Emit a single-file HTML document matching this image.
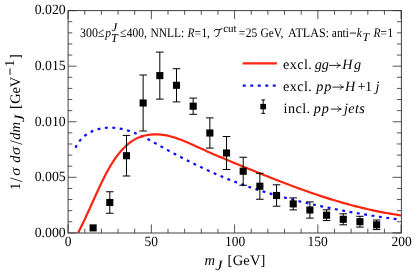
<!DOCTYPE html>
<html><head><meta charset="utf-8"><title>plot</title>
<style>html,body{margin:0;padding:0;background:#fff;}svg{display:block;will-change:transform;}text{font-family:"Liberation Serif",serif;fill:#000;text-rendering:geometricPrecision;}</style>
</head><body>
<svg width="415" height="274" viewBox="0 0 415 274">
<rect width="415" height="274" fill="#fff"/>
<defs><clipPath id="c"><rect x="68.1" y="10.6" width="333.0" height="222.3"/></clipPath></defs>
<g clip-path="url(#c)" fill="none">
<path d="M75.50,148.30 L76.13,146.30 L77.35,144.17 L78.67,142.18 L80.09,140.34 L81.61,138.64 L83.21,137.08 L84.89,135.64 L86.64,134.34 L88.46,133.16 L90.33,132.11 L92.26,131.18 L94.24,130.36 L96.25,129.66 L98.29,129.06 L100.36,128.58 L102.44,128.20 L104.55,127.92 L106.67,127.74 L108.80,127.65 L110.95,127.65 L113.09,127.74 L115.25,127.92 L117.40,128.18 L119.56,128.52 L121.71,128.93 L123.85,129.41 L125.98,129.97 L128.10,130.58 L130.21,131.27 L132.29,132.01 L134.37,132.80 L136.43,133.64 L138.48,134.53 L140.51,135.46 L142.54,136.43 L144.55,137.43 L146.55,138.45 L148.54,139.50 L150.52,140.57 L152.50,141.66 L154.47,142.75 L156.43,143.85 L158.38,144.95 L160.33,146.05 L162.27,147.15 L164.21,148.23 L166.15,149.30 L168.08,150.37 L170.01,151.42 L171.94,152.47 L173.87,153.50 L175.80,154.53 L177.73,155.55 L179.66,156.56 L181.59,157.57 L183.53,158.57 L185.47,159.56 L187.41,160.55 L189.36,161.53 L191.32,162.51 L193.28,163.48 L195.24,164.44 L197.21,165.40 L199.19,166.35 L201.17,167.29 L203.16,168.23 L205.15,169.16 L207.15,170.09 L209.15,171.00 L211.16,171.91 L213.17,172.81 L215.19,173.70 L217.21,174.58 L219.24,175.45 L221.27,176.32 L223.30,177.17 L225.34,178.02 L227.39,178.85 L229.44,179.67 L231.49,180.49 L233.55,181.29 L235.61,182.08 L237.67,182.86 L239.74,183.63 L241.82,184.38 L243.89,185.13 L245.97,185.86 L248.06,186.58 L250.15,187.30 L252.24,188.00 L254.33,188.69 L256.43,189.37 L258.53,190.04 L260.64,190.70 L262.75,191.36 L264.86,192.00 L266.97,192.63 L269.09,193.26 L271.21,193.88 L273.33,194.48 L275.46,195.08 L277.59,195.68 L279.72,196.26 L281.85,196.84 L283.99,197.41 L286.12,197.97 L288.26,198.52 L290.41,199.07 L292.55,199.61 L294.70,200.15 L296.85,200.68 L299.00,201.20 L301.15,201.72 L303.31,202.23 L305.46,202.73 L307.62,203.23 L309.78,203.73 L311.94,204.22 L314.10,204.70 L316.27,205.18 L318.43,205.65 L320.60,206.12 L322.77,206.58 L324.94,207.04 L327.11,207.49 L329.28,207.94 L331.45,208.38 L333.62,208.81 L335.79,209.24 L337.97,209.67 L340.14,210.09 L342.32,210.50 L344.49,210.91 L346.67,211.31 L348.84,211.71 L351.02,212.10 L353.20,212.49 L355.37,212.87 L357.55,213.25 L359.72,213.62 L361.90,213.99 L364.08,214.35 L366.25,214.70 L368.43,215.05 L370.60,215.40 L372.78,215.74 L374.95,216.07 L377.12,216.40 L379.30,216.73 L381.47,217.05 L383.64,217.36 L385.81,217.67 L387.98,217.98 L390.15,218.28 L392.31,218.57 L394.48,218.86 L396.64,219.14 L398.81,219.42 L401.10,219.70" stroke="#0a0aff" stroke-width="2.2" stroke-dasharray="2.9 4.55" stroke-dashoffset="-0.47"/>
<path d="M78.30,232.90 L79.22,230.50 L80.31,228.39 L81.39,226.25 L82.46,224.09 L83.52,221.92 L84.56,219.73 L85.60,217.52 L86.64,215.30 L87.66,213.07 L88.68,210.83 L89.70,208.58 L90.72,206.32 L91.74,204.06 L92.75,201.79 L93.77,199.52 L94.80,197.25 L95.82,194.98 L96.86,192.70 L97.89,190.43 L98.94,188.17 L100.00,185.91 L101.07,183.65 L102.15,181.41 L103.24,179.17 L104.36,176.95 L105.49,174.74 L106.66,172.54 L107.85,170.36 L109.07,168.19 L110.33,166.04 L111.63,163.92 L112.97,161.81 L114.36,159.73 L115.80,157.67 L117.30,155.64 L118.85,153.64 L120.45,151.70 L122.10,149.81 L123.82,148.00 L125.58,146.26 L127.41,144.61 L129.29,143.07 L131.23,141.63 L133.22,140.32 L135.27,139.14 L137.38,138.09 L139.54,137.18 L141.75,136.39 L144.00,135.74 L146.28,135.21 L148.59,134.81 L150.93,134.53 L153.28,134.36 L155.65,134.31 L158.03,134.37 L160.42,134.54 L162.80,134.81 L165.17,135.19 L167.55,135.66 L169.91,136.22 L172.28,136.86 L174.63,137.57 L176.99,138.36 L179.34,139.20 L181.68,140.09 L184.02,141.03 L186.36,142.00 L188.70,143.01 L191.03,144.04 L193.35,145.09 L195.68,146.15 L198.00,147.21 L200.31,148.27 L202.63,149.32 L204.94,150.35 L207.25,151.38 L209.55,152.40 L211.86,153.42 L214.16,154.42 L216.46,155.41 L218.75,156.40 L221.05,157.38 L223.34,158.36 L225.63,159.33 L227.92,160.29 L230.21,161.25 L232.49,162.20 L234.78,163.15 L237.06,164.09 L239.35,165.03 L241.63,165.96 L243.91,166.90 L246.19,167.83 L248.47,168.75 L250.75,169.68 L253.03,170.60 L255.31,171.52 L257.59,172.44 L259.87,173.36 L262.14,174.27 L264.42,175.18 L266.70,176.09 L268.99,177.00 L271.27,177.90 L273.55,178.79 L275.83,179.69 L278.12,180.58 L280.40,181.46 L282.69,182.34 L284.98,183.22 L287.27,184.09 L289.56,184.95 L291.85,185.81 L294.15,186.66 L296.44,187.51 L298.74,188.35 L301.04,189.18 L303.35,190.01 L305.65,190.83 L307.96,191.65 L310.27,192.45 L312.59,193.25 L314.91,194.04 L317.23,194.82 L319.55,195.60 L321.88,196.36 L324.21,197.12 L326.55,197.87 L328.88,198.61 L331.23,199.34 L333.57,200.06 L335.92,200.77 L338.28,201.47 L340.64,202.16 L343.00,202.84 L345.37,203.50 L347.74,204.16 L350.12,204.81 L352.50,205.44 L354.89,206.07 L357.28,206.68 L359.68,207.28 L362.09,207.86 L364.50,208.44 L366.91,209.00 L369.33,209.55 L371.76,210.08 L374.19,210.61 L376.63,211.12 L379.08,211.61 L381.53,212.09 L383.99,212.56 L386.45,213.01 L388.92,213.44 L391.40,213.87 L393.89,214.27 L396.38,214.66 L398.88,215.04 L401.10,215.50" stroke="#ff2410" stroke-width="2.2"/>
</g>
<path d="M109.79,191.75V213.25M105.99,191.75H113.59M105.99,213.25H113.59M126.47,135.40V176.00M122.67,135.40H130.27M122.67,176.00H130.27M143.14,75.00V131.00M139.34,75.00H146.94M139.34,131.00H146.94M159.82,52.10V99.10M156.02,52.10H163.62M156.02,99.10H163.62M176.49,68.70V101.90M172.69,68.70H180.29M172.69,101.90H180.29M193.17,98.10V114.30M189.37,98.10H196.97M189.37,114.30H196.97M209.85,117.90V148.10M206.05,117.90H213.65M206.05,148.10H213.65M226.52,136.50V169.50M222.72,136.50H230.32M222.72,169.50H230.32M243.20,157.25V185.25M239.40,157.25H247.00M239.40,185.25H247.00M259.87,173.25V199.25M256.07,173.25H263.67M256.07,199.25H263.67M276.55,184.80V206.20M272.75,184.80H280.35M272.75,206.20H280.35M293.23,197.90V209.90M289.43,197.90H297.03M289.43,209.90H297.03M309.90,201.90V218.10M306.10,201.90H313.70M306.10,218.10H313.70M326.58,209.80V220.60M322.78,209.80H330.38M322.78,220.60H330.38M343.25,213.80V224.80M339.45,213.80H347.05M339.45,224.80H347.05M359.93,216.30V227.10M356.13,216.30H363.73M356.13,227.10H363.73M376.61,220.00V229.60M372.81,220.00H380.41M372.81,229.60H380.41" stroke="#000" stroke-width="1" fill="none"/>
<rect x="89.56" y="224.35" width="7.1" height="7.1" fill="#000"/>
<rect x="106.24" y="198.95" width="7.1" height="7.1" fill="#000"/>
<rect x="122.92" y="152.15" width="7.1" height="7.1" fill="#000"/>
<rect x="139.59" y="99.45" width="7.1" height="7.1" fill="#000"/>
<rect x="156.27" y="72.05" width="7.1" height="7.1" fill="#000"/>
<rect x="172.94" y="81.75" width="7.1" height="7.1" fill="#000"/>
<rect x="189.62" y="102.65" width="7.1" height="7.1" fill="#000"/>
<rect x="206.30" y="129.45" width="7.1" height="7.1" fill="#000"/>
<rect x="222.97" y="149.45" width="7.1" height="7.1" fill="#000"/>
<rect x="239.65" y="167.70" width="7.1" height="7.1" fill="#000"/>
<rect x="256.32" y="182.70" width="7.1" height="7.1" fill="#000"/>
<rect x="273.00" y="191.95" width="7.1" height="7.1" fill="#000"/>
<rect x="289.68" y="200.35" width="7.1" height="7.1" fill="#000"/>
<rect x="306.35" y="206.45" width="7.1" height="7.1" fill="#000"/>
<rect x="323.03" y="211.65" width="7.1" height="7.1" fill="#000"/>
<rect x="339.70" y="215.75" width="7.1" height="7.1" fill="#000"/>
<rect x="356.38" y="218.15" width="7.1" height="7.1" fill="#000"/>
<rect x="373.06" y="221.25" width="7.1" height="7.1" fill="#000"/>
<path d="M68.10,232.9v-8.5M68.10,10.6v8.5M84.75,232.9v-4.2M84.75,10.6v4.2M101.40,232.9v-4.2M101.40,10.6v4.2M118.05,232.9v-4.2M118.05,10.6v4.2M134.70,232.9v-4.2M134.70,10.6v4.2M151.35,232.9v-8.5M151.35,10.6v8.5M168.00,232.9v-4.2M168.00,10.6v4.2M184.65,232.9v-4.2M184.65,10.6v4.2M201.30,232.9v-4.2M201.30,10.6v4.2M217.95,232.9v-4.2M217.95,10.6v4.2M234.60,232.9v-8.5M234.60,10.6v8.5M251.25,232.9v-4.2M251.25,10.6v4.2M267.90,232.9v-4.2M267.90,10.6v4.2M284.55,232.9v-4.2M284.55,10.6v4.2M301.20,232.9v-4.2M301.20,10.6v4.2M317.85,232.9v-8.5M317.85,10.6v8.5M334.50,232.9v-4.2M334.50,10.6v4.2M351.15,232.9v-4.2M351.15,10.6v4.2M367.80,232.9v-4.2M367.80,10.6v4.2M384.45,232.9v-4.2M384.45,10.6v4.2M401.10,232.9v-8.5M401.10,10.6v8.5M68.1,232.90h8.5M401.1,232.90h-8.5M68.1,221.78h4.2M401.1,221.78h-4.2M68.1,210.67h4.2M401.1,210.67h-4.2M68.1,199.56h4.2M401.1,199.56h-4.2M68.1,188.44h4.2M401.1,188.44h-4.2M68.1,177.32h8.5M401.1,177.32h-8.5M68.1,166.21h4.2M401.1,166.21h-4.2M68.1,155.09h4.2M401.1,155.09h-4.2M68.1,143.98h4.2M401.1,143.98h-4.2M68.1,132.87h4.2M401.1,132.87h-4.2M68.1,121.75h8.5M401.1,121.75h-8.5M68.1,110.64h4.2M401.1,110.64h-4.2M68.1,99.52h4.2M401.1,99.52h-4.2M68.1,88.41h4.2M401.1,88.41h-4.2M68.1,77.29h4.2M401.1,77.29h-4.2M68.1,66.17h8.5M401.1,66.17h-8.5M68.1,55.06h4.2M401.1,55.06h-4.2M68.1,43.94h4.2M401.1,43.94h-4.2M68.1,32.83h4.2M401.1,32.83h-4.2M68.1,21.72h4.2M401.1,21.72h-4.2M68.1,10.60h8.5M401.1,10.60h-8.5" stroke="#2a2a2a" stroke-width="0.8" fill="none"/>
<path d="M68.1,10.6H401.40000000000003M68.1,233.0H401.40000000000003M68.1,10.15V233.45000000000002M401.40000000000003,10.15V233.45000000000002" fill="none" stroke="#2a2a2a" stroke-width="0.9"/>
<text transform="translate(64.83,245.70) scale(0.957,1)" font-size="14.1">0</text>
<text transform="translate(144.57,245.70) scale(0.957,1)" font-size="14.1">50</text>
<text transform="translate(225.04,245.70) scale(0.957,1)" font-size="14.1">100</text>
<text transform="translate(307.59,245.70) scale(0.957,1)" font-size="14.1">150</text>
<text transform="translate(391.44,245.70) scale(0.957,1)" font-size="14.1">200</text>
<text transform="translate(34.64,237.10) scale(0.98,1)" font-size="14.1">0.000</text>
<text transform="translate(34.65,181.36) scale(0.98,1)" font-size="14.1">0.005</text>
<text transform="translate(34.64,125.63) scale(0.98,1)" font-size="14.1">0.010</text>
<text transform="translate(34.65,69.89) scale(0.98,1)" font-size="14.1">0.015</text>
<text transform="translate(34.64,14.16) scale(0.98,1)" font-size="14.1">0.020</text>
<text x="204.41" y="264.80" font-size="14.5" font-style="italic">m</text>
<text transform="translate(215.23,269.60) scale(1.15,1)" font-size="14.2" font-style="italic">J</text>
<text x="227.62" y="264.80" font-size="14.5" letter-spacing="0.2">[GeV]</text>
<g transform="translate(19.7,188.2) rotate(-90)">
<text x="-1.88" y="0.00" font-size="14.5">1</text>
<text transform="translate(6.12,2.30) scale(0.9,1)" font-size="17.8">/</text>
<text transform="translate(12.40,0.00) scale(1.12,1)" font-size="14.5" font-style="italic">σ</text>
<text x="25.39" y="0.00" font-size="14.5" font-style="italic">d</text>
<text transform="translate(33.25,0.00) scale(1.12,1)" font-size="14.5" font-style="italic">σ</text>
<text transform="translate(43.47,2.30) scale(0.9,1)" font-size="17.8">/</text>
<text x="48.34" y="0.00" font-size="14.5" font-style="italic">d</text>
<text x="55.76" y="0.00" font-size="14.5" font-style="italic">m</text>
<text transform="translate(66.23,4.60) scale(1.15,1)" font-size="14.2" font-style="italic">J</text>
<text x="79.11" y="0.00" font-size="14.5">[</text>
<text x="84.39" y="0.00" font-size="14.5">G</text>
<text x="94.80" y="0.00" font-size="14.5">e</text>
<text x="100.91" y="0.00" font-size="14.5">V</text>
<path d="M113.3,-9.7H119.8" stroke="#000" stroke-width="0.9" fill="none"/>
<text x="121.36" y="-5.60" font-size="13.6">1</text>
<text x="129.31" y="0.00" font-size="14.5">]</text>
</g>
<text transform="translate(80.00,36.70) scale(0.915,1)" font-size="13">300</text>
<text transform="translate(98.00,36.70) scale(0.88,1)" font-size="13">≤</text>
<text transform="translate(105.30,36.70) scale(0.88,1)" font-size="13" font-style="italic">p</text>
<text transform="translate(111.50,31.40) scale(1.1,1)" font-size="12" font-style="italic">J</text>
<text x="110.90" y="41.70" font-size="12.2" font-style="italic">T</text>
<text transform="translate(120.10,36.70) scale(0.88,1)" font-size="13">≤</text>
<text transform="translate(126.80,36.70) scale(0.88,1)" font-size="13">400,</text>
<text transform="translate(150.40,36.70) scale(0.88,1)" font-size="13">NNLL:</text>
<text transform="translate(187.60,36.70) scale(0.88,1)" font-size="13" font-style="italic">R</text>
<text transform="translate(194.60,36.70) scale(0.88,1)" font-size="13">=</text>
<text transform="translate(201.40,36.70) scale(0.88,1)" font-size="13">1,</text>
<path d="M214.3,31.0 C214.4,29.5 215.6,29.2 217.3,29.5 C219.2,29.8 220.8,29.5 222.2,28.4 M219.3,29.8 C219.2,32.3 218.7,34.6 217.5,36.0 C216.8,36.8 215.9,36.8 215.4,36.1" stroke="#000" stroke-width="1" fill="none" stroke-linecap="round"/>
<text x="223.20" y="31.80" font-size="11">cut</text>
<text transform="translate(238.80,36.70) scale(0.88,1)" font-size="13">=</text>
<text transform="translate(245.80,36.70) scale(0.88,1)" font-size="13">25</text>
<text transform="translate(260.40,36.70) scale(0.88,1)" font-size="13">GeV,</text>
<text transform="translate(288.00,36.70) scale(0.93,1)" font-size="13">ATLAS</text>
<text transform="translate(325.80,36.70) scale(0.88,1)" font-size="13">:</text>
<text transform="translate(331.80,36.70) scale(0.88,1)" font-size="13">anti</text>
<path d="M349.9,33.1H356.0" stroke="#000" stroke-width="0.9" fill="none"/>
<text transform="translate(356.80,36.70) scale(0.88,1)" font-size="13" font-style="italic">k</text>
<text x="362.40" y="40.90" font-size="12.0" font-style="italic">T</text>
<text transform="translate(373.60,36.70) scale(0.88,1)" font-size="13" font-style="italic">R</text>
<text transform="translate(380.40,36.70) scale(0.88,1)" font-size="13">=</text>
<text transform="translate(387.50,36.70) scale(0.88,1)" font-size="13">1</text>
<path d="M242.6,63.4H276.9" stroke="#ff2410" stroke-width="2.2" fill="none"/>
<path d="M242.8,85.55H276.5" stroke="#0a0aff" stroke-width="2.2" stroke-dasharray="2.9 4.6" fill="none"/>
<path d="M263.2,99.9V113.4M261.3,99.9H265.1M261.3,113.4H265.1" stroke="#000" stroke-width="1" fill="none"/>
<rect x="260.3" y="103.9" width="5.7" height="5.4" fill="#000"/>
<text x="282.95" y="69.30" font-size="14.2" letter-spacing="0.45">excl.</text>
<text x="314.65" y="69.30" font-size="14.2" font-style="italic">gg</text>
<path d="M329.0,65.39999999999999H340.1" stroke="#000" stroke-width="0.85" fill="none"/><path d="M336.9,62.99999999999999C337.5,64.19999999999999 338.7,65.1 340.5,65.39999999999999C338.7,65.69999999999999 337.5,66.6 336.9,67.8" stroke="#000" stroke-width="0.8" fill="none" stroke-linecap="round"/>
<text x="342.13" y="69.30" font-size="14.2" font-style="italic">H</text>
<text x="353.95" y="69.30" font-size="14.2" font-style="italic">g</text>
<text x="282.95" y="91.00" font-size="14.2" letter-spacing="0.45">excl.</text>
<text x="316.18" y="91.00" font-size="14.2" font-style="italic" letter-spacing="0.9">pp</text>
<path d="M332.4,87.1H343.20000000000005" stroke="#000" stroke-width="0.85" fill="none"/><path d="M340.0,84.69999999999999C340.6,85.89999999999999 341.8,86.8 343.6,87.1C341.8,87.39999999999999 340.6,88.3 340.0,89.5" stroke="#000" stroke-width="0.8" fill="none" stroke-linecap="round"/>
<text x="345.03" y="91.00" font-size="14.2" font-style="italic">H</text>
<text x="357.54" y="91.00" font-size="14.2">+</text>
<text x="365.00" y="91.00" font-size="14.2">1</text>
<text x="375.56" y="91.00" font-size="14.2" font-style="italic">j</text>
<text x="283.50" y="112.70" font-size="14.2" letter-spacing="0.45">incl.</text>
<text x="313.83" y="112.70" font-size="14.2" font-style="italic" letter-spacing="0.9">pp</text>
<path d="M330.7,109.10000000000001H341.0" stroke="#000" stroke-width="0.85" fill="none"/><path d="M337.79999999999995,106.7C338.4,107.9 339.59999999999997,108.80000000000001 341.4,109.10000000000001C339.59999999999997,109.4 338.4,110.30000000000001 337.79999999999995,111.50000000000001" stroke="#000" stroke-width="0.8" fill="none" stroke-linecap="round"/>
<text x="344.06" y="112.70" font-size="14.2" font-style="italic" letter-spacing="0.3">jets</text>
</svg></body></html>
